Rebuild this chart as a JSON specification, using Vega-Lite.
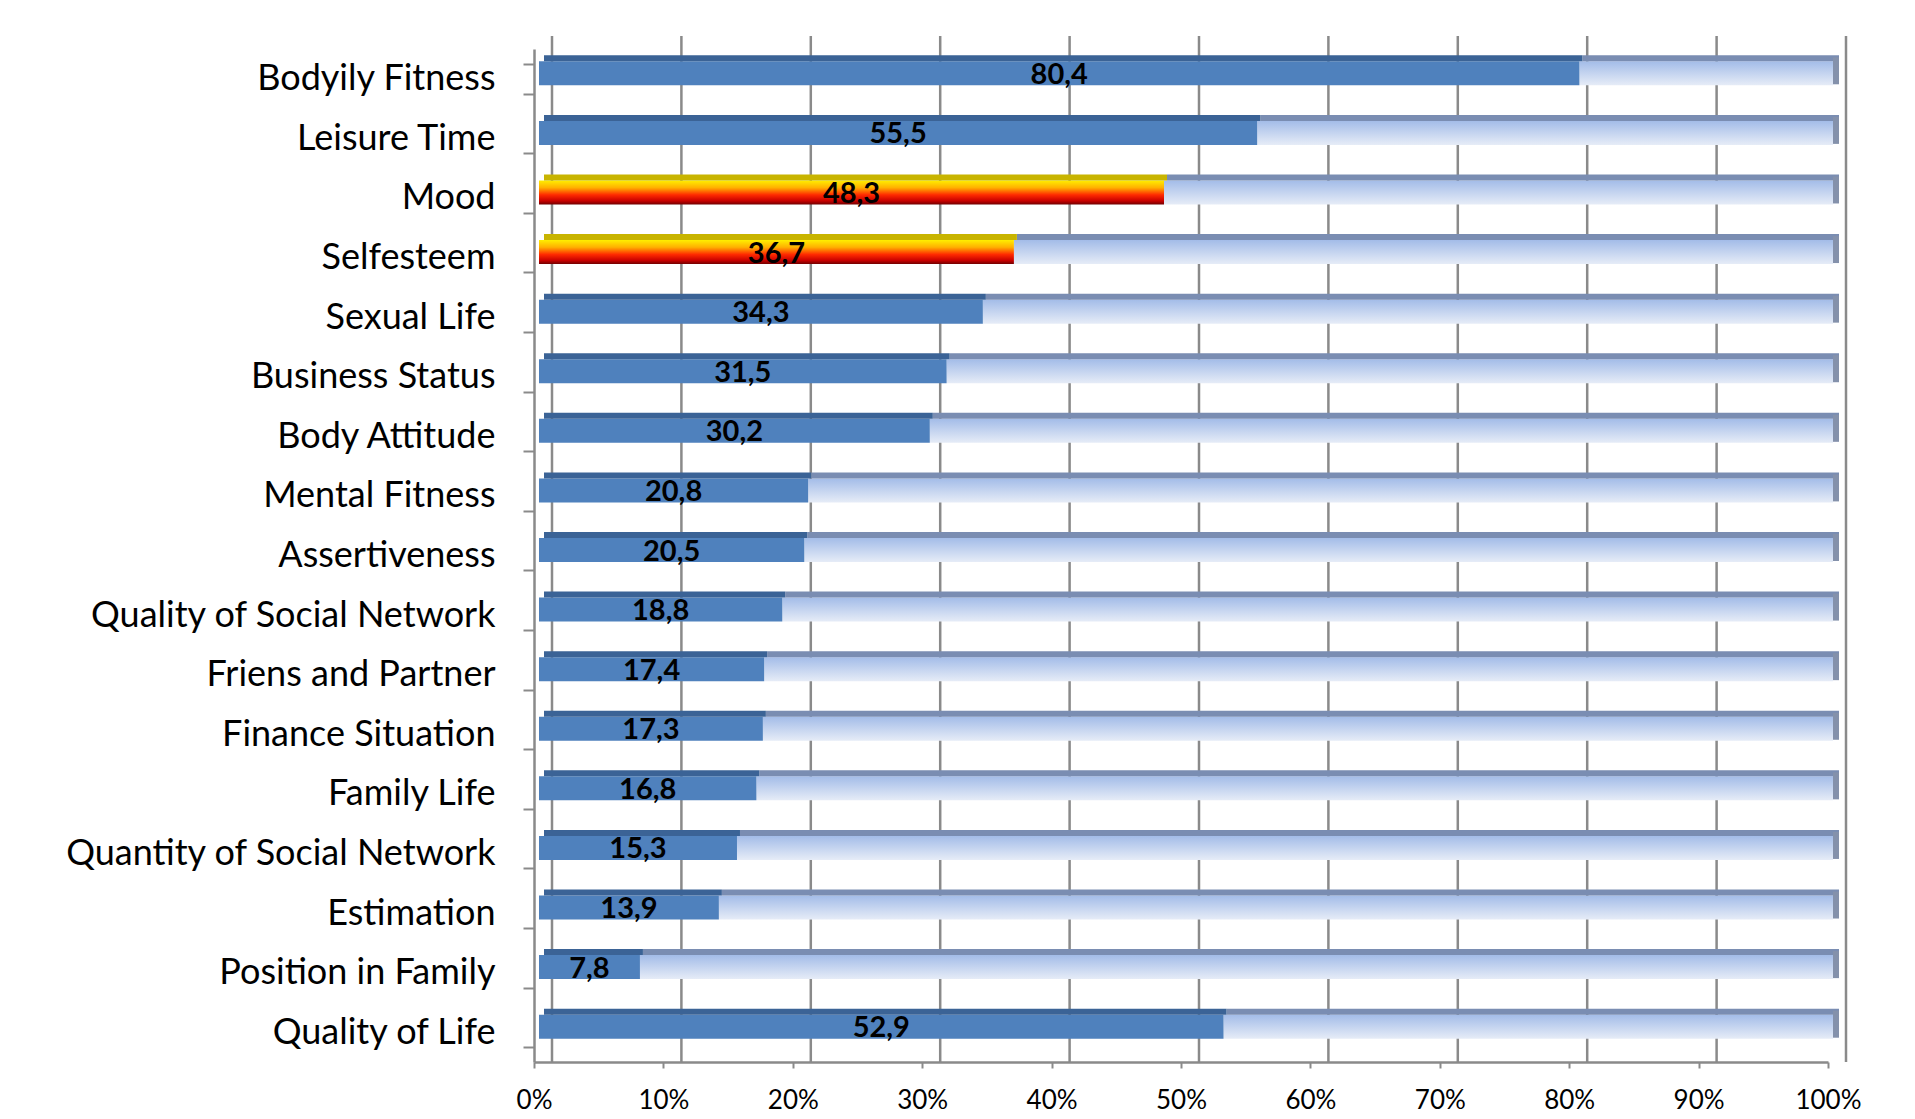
{
  "$schema": "https://vega.github.io/schema/vega-lite/v6.json",
  "autosize": "none",
  "padding": {"left": 534, "top": 49, "right": 87, "bottom": 57},
  "width": 1294,
  "height": 1013,
  "background": "white",
  "config": {
    "view": {"stroke": null},
    "locale": {"number": {"decimal": ",", "thousands": ".", "grouping": [3], "currency": ["", " €"]}},
    "axis": {"labelFont": "Lato", "labelColor": "#000000", "domainColor": "#8a8a8a", "tickColor": "#8a8a8a", "domainWidth": 2.5, "tickWidth": 2, "grid": false, "title": null, "labelLimit": 800}
  },
  "datasets": {
    "items": [
      {"category": "Bodyily Fitness", "value": 80.4, "group": "normal"},
      {"category": "Leisure Time", "value": 55.5, "group": "normal"},
      {"category": "Mood", "value": 48.3, "group": "highlight"},
      {"category": "Selfesteem", "value": 36.7, "group": "highlight"},
      {"category": "Sexual Life", "value": 34.3, "group": "normal"},
      {"category": "Business Status", "value": 31.5, "group": "normal"},
      {"category": "Body Attitude", "value": 30.2, "group": "normal"},
      {"category": "Mental Fitness", "value": 20.8, "group": "normal"},
      {"category": "Assertiveness", "value": 20.5, "group": "normal"},
      {"category": "Quality of Social Network", "value": 18.8, "group": "normal"},
      {"category": "Friens and Partner", "value": 17.4, "group": "normal"},
      {"category": "Finance Situation", "value": 17.3, "group": "normal"},
      {"category": "Family Life", "value": 16.8, "group": "normal"},
      {"category": "Quantity of Social Network", "value": 15.3, "group": "normal"},
      {"category": "Estimation", "value": 13.9, "group": "normal"},
      {"category": "Position in Family", "value": 7.8, "group": "normal"},
      {"category": "Quality of Life", "value": 52.9, "group": "normal"}
    ],
    "grid": [
      {"pct": 0}, {"pct": 10}, {"pct": 20}, {"pct": 30}, {"pct": 40}, {"pct": 50},
      {"pct": 60}, {"pct": 70}, {"pct": 80}, {"pct": 90}, {"pct": 100}
    ]
  },
  "layer": [
    {
      "data": {"name": "grid"},
      "mark": {"type": "rule", "color": "#8a8a8a", "strokeWidth": 2.5, "xOffset": 18, "yOffset": -13},
      "encoding": {
        "x": {"field": "pct", "type": "quantitative", "scale": {"domain": [0, 100], "nice": false, "zero": true},
          "axis": {"values": [0, 10, 20, 30, 40, 50, 60, 70, 80, 90, 100], "labelExpr": "datum.value + '%'", "labelFontSize": 26, "tickSize": 6, "labelPadding": 19, "labelFlush": false}}
      }
    },
    {
      "data": {"name": "items"},
      "mark": {"type": "bar", "size": 24, "yOffset": -5.5, "xOffset": 5, "x2Offset": 5,
        "color": {"gradient": "linear", "x1": 0, "y1": 0, "x2": 0, "y2": 1, "stops": [{"offset": 0, "color": "#a3bce8"}, {"offset": 1, "color": "#e6ecf7"}]}},
      "encoding": {
        "y": {"field": "category", "type": "nominal", "sort": null, "scale": {"paddingInner": 0.5, "paddingOuter": 0.25},
          "axis": {"labelFontSize": 36, "tickSize": 11, "labelPadding": 28, "tickBand": "extent"}},
        "x": {"field": "value", "type": "quantitative"},
        "x2": {"datum": 100}
      }
    },
    {
      "data": {"name": "items"},
      "mark": {"type": "bar", "size": 6, "yOffset": -20.5, "xOffset": 8, "x2Offset": 11, "color": "#7a8db2"},
      "encoding": {
        "y": {"field": "category", "type": "nominal", "sort": null},
        "x": {"field": "value", "type": "quantitative"},
        "x2": {"datum": 100}
      }
    },
    {
      "data": {"name": "items"},
      "mark": {"type": "bar", "size": 27, "yOffset": -8, "xOffset": 5, "x2Offset": 11, "color": "#8491ab"},
      "encoding": {
        "y": {"field": "category", "type": "nominal", "sort": null},
        "x": {"datum": 100, "type": "quantitative"},
        "x2": {"datum": 100}
      }
    },
    {
      "data": {"name": "items"},
      "transform": [{"filter": "datum.group === 'normal'"}],
      "mark": {"type": "bar", "size": 24, "yOffset": -5.5, "xOffset": 5, "x2Offset": 5, "color": "#4f81bd"},
      "encoding": {
        "y": {"field": "category", "type": "nominal", "sort": null},
        "x": {"field": "value", "type": "quantitative"},
        "x2": {"datum": 0}
      }
    },
    {
      "data": {"name": "items"},
      "transform": [{"filter": "datum.group === 'normal'"}],
      "mark": {"type": "bar", "size": 6, "yOffset": -20.5, "xOffset": 8, "x2Offset": 10, "color": "#3b6396"},
      "encoding": {
        "y": {"field": "category", "type": "nominal", "sort": null},
        "x": {"field": "value", "type": "quantitative"},
        "x2": {"datum": 0}
      }
    },
    {
      "data": {"name": "items"},
      "transform": [{"filter": "datum.group === 'highlight'"}],
      "mark": {"type": "bar", "size": 24, "yOffset": -5.5, "xOffset": 5, "x2Offset": 5,
        "color": {"gradient": "linear", "x1": 0, "y1": 0, "x2": 0, "y2": 1, "stops": [
          {"offset": 0, "color": "#ffee00"},
          {"offset": 0.3, "color": "#ffb000"},
          {"offset": 0.6, "color": "#ff2a00"},
          {"offset": 0.85, "color": "#c80000"},
          {"offset": 1, "color": "#700000"}]}},
      "encoding": {
        "y": {"field": "category", "type": "nominal", "sort": null},
        "x": {"field": "value", "type": "quantitative"},
        "x2": {"datum": 0}
      }
    },
    {
      "data": {"name": "items"},
      "transform": [{"filter": "datum.group === 'highlight'"}],
      "mark": {"type": "bar", "size": 6, "yOffset": -20.5, "xOffset": 8, "x2Offset": 10, "color": "#c8b400"},
      "encoding": {
        "y": {"field": "category", "type": "nominal", "sort": null},
        "x": {"field": "value", "type": "quantitative"},
        "x2": {"datum": 0}
      }
    },
    {
      "data": {"name": "items"},
      "transform": [{"calculate": "datum.value / 2", "as": "mid"}],
      "mark": {"type": "text", "font": "Lato", "fontWeight": "bold", "fontSize": 29, "color": "#000000", "align": "center", "baseline": "middle", "yOffset": -4, "xOffset": 5},
      "encoding": {
        "y": {"field": "category", "type": "nominal", "sort": null},
        "x": {"field": "mid", "type": "quantitative"},
        "text": {"field": "value", "type": "quantitative", "format": ".1f"}
      }
    }
  ]
}
